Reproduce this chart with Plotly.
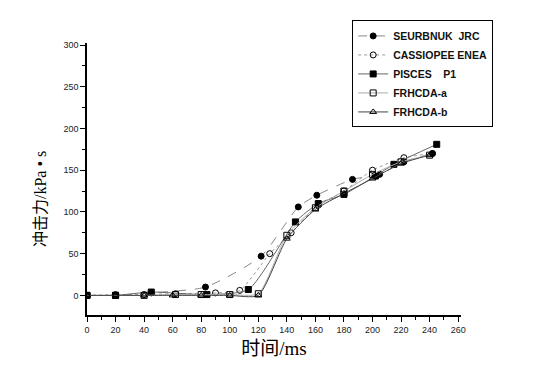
import plotly.graph_objects as go

# Data
jrc_x = [0, 20, 45, 83, 122, 148, 161, 186, 205, 222, 242]
jrc_y = [0, 0, 3, 10, 47, 106, 120, 139, 145, 160, 170]

enea_x = [0, 20, 40, 62, 90, 107, 128, 143, 162, 180, 200, 222, 242]
enea_y = [0, 1, 1, 2, 3, 6, 50, 75, 108, 125, 150, 165, 170]

p1_x = [0, 20, 45, 84, 113, 146, 162, 180, 202, 215, 245]
p1_y = [0, 0, 4, 1, 7, 88, 110, 121, 143, 157, 181]

fa_x = [0, 20, 40, 62, 80, 100, 120, 140, 160, 180, 200, 220, 240]
fa_y = [0, 0, 0, 1, 1, 1, 2, 72, 105, 125, 145, 160, 168]

fb_x = [0, 20, 40, 60, 80, 100, 120, 140, 160, 180, 200, 220, 240]
fb_y = [0, 0, 0, 0, 0, 0, 0, 68, 103, 122, 140, 158, 168]

names = ["SEURBNUK  JRC", "CASSIOPEE ENEA", "PISCES    P1", "FRHCDA-a", "FRHCDA-b"]
x_title = "时间/ms"
y_title = "冲击力/kPa • s"

fig = go.Figure()
series = [
    (jrc_x, jrc_y, names[0], "circle", "#888888", "dash"),
    (enea_x, enea_y, names[1], "circle-open", "#999999", "dot"),
    (p1_x, p1_y, names[2], "square", "#666666", "solid"),
    (fa_x, fa_y, names[3], "square-open", "#aaaaaa", "solid"),
    (fb_x, fb_y, names[4], "triangle-up-open", "#444444", "solid"),
]
for x, y, n, sym, lc, dash in series:
    fig.add_trace(go.Scatter(
        x=x, y=y, name="<b>" + n + "</b>", mode="lines+markers",
        line=dict(color=lc, width=1, dash=dash, shape="spline", smoothing=0.6),
        marker=dict(symbol=sym, size=6, color="#000000",
                    line=dict(color="#000000", width=1)),
    ))

fig.update_layout(
    width=525, height=372,
    margin=dict(l=79, r=72, t=30, b=65),
    paper_bgcolor="white", plot_bgcolor="white",
    font=dict(family="Liberation Sans, Arial, sans-serif", color="#000000"),
    legend=dict(
        x=0.709, y=1.083, xanchor="left", yanchor="top",
        bordercolor="#000000", borderwidth=1, bgcolor="white",
        font=dict(size=10.5, family="Liberation Sans, Arial, sans-serif", color="#111111"),
        tracegroupgap=0, itemwidth=30,
    ),
    xaxis=dict(
        range=[0, 262], tickmode="array", automargin=False,
        tickvals=list(range(0, 261, 20)),
        ticks="outside", ticklen=5, tickwidth=1, tickcolor="#000000",
        showline=True, linecolor="#000000", linewidth=1.5,
        showgrid=False, zeroline=False,
        tickfont=dict(size=9, color="#222222"),
        minor=dict(dtick=10, ticks="outside", ticklen=3, tickcolor="#000000"),
        title=dict(text=x_title, font=dict(size=19, family="Liberation Serif, Noto Sans CJK SC", color="#000000"), standoff=8),
    ),
    yaxis=dict(
        range=[-23.5, 302.4], tickmode="array", automargin=False,
        tickvals=list(range(0, 301, 50)),
        ticks="outside", ticklen=5, tickwidth=1, tickcolor="#000000",
        showline=True, linecolor="#000000", linewidth=1.5,
        showgrid=False, zeroline=False,
        tickfont=dict(size=9, color="#222222"),
        minor=dict(dtick=25, ticks="outside", ticklen=3, tickcolor="#000000"),
    ),
    annotations=[dict(
        text=y_title, textangle=-90, xref="paper", yref="paper",
        x=-0.126, y=0.426, xanchor="center", yanchor="middle", showarrow=False,
        font=dict(size=16, family="Liberation Serif, Noto Sans CJK SC", color="#000000"),
    )],
)

fig.write_html("out.html")
